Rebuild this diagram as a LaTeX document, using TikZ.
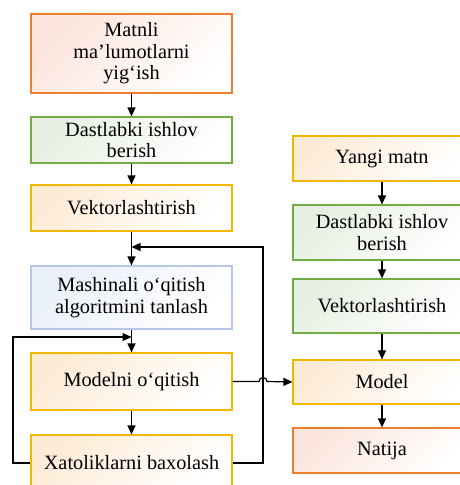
\documentclass[tikz,border=0pt]{standalone}
\usepackage{fontspec}
\setmainfont{Liberation Serif}
\usetikzlibrary{arrows.meta}
\definecolor{cOr}{HTML}{ED7D31}
\definecolor{cGr}{HTML}{70AD47}
\definecolor{cGo}{HTML}{F2B800}
\definecolor{cBl}{HTML}{B4C7E7}
\definecolor{tOr}{HTML}{FBE5DC}
\definecolor{tGr}{HTML}{E6EFE1}
\definecolor{tGo}{HTML}{FDEBD6}
\definecolor{tBl}{HTML}{EAF0F9}
\tikzset{
  box/.style={draw, line width=1.2pt, inner sep=0pt, align=center,
    font=\fontsize{20.3}{21.5}\selectfont},
  lbox/.style={box, minimum width=201pt},
  rbox/.style={box, minimum width=178pt},
  orbox/.style={draw=cOr, top color=tOr, bottom color=white, shading angle=45},
  grbox/.style={draw=cGr, top color=tGr, bottom color=white, shading angle=45},
  gobox/.style={draw=cGo, top color=tGo, bottom color=white, shading angle=45},
  blbox/.style={draw=cBl, top color=tBl, bottom color=white, shading angle=45},
  arr/.style={line width=1.2pt, -{Triangle[length=9pt,width=8pt]}},
  ln/.style={line width=1.2pt}
}
\begin{document}
\begin{tikzpicture}[x=1pt,y=-1pt]
\useasboundingbox (0,0) rectangle (459,485);
% left column
\node[lbox, orbox, minimum height=79pt] (L1) at (131.5,53.5) {Matnli\\ma’lumotlarni\\yig‘ish};
\node[lbox, grbox, minimum height=46pt] (L2) at (131.5,140) {Dastlabki ishlov\\berish};
\node[lbox, gobox, minimum height=46pt] (L3) at (131.5,208) {Vektorlashtirish};
\node[lbox, blbox, minimum height=63pt] (L4) at (131.5,297.5) {Mashinali o‘qitish\\algoritmini tanlash};
\node[lbox, gobox, minimum height=57pt] (L5) at (131.5,381.5) {Modelni o‘qitish};
\node[lbox, gobox, minimum height=56pt] (L6) at (131.5,463) {Xatoliklarni baxolash};
% right column
\node[rbox, gobox, minimum height=45pt] (R1) at (382,158.5) {Yangi matn};
\node[rbox, grbox, minimum height=55pt] (R2) at (382,232.5) {Dastlabki ishlov\\berish};
\node[rbox, grbox, minimum height=54pt] (R3) at (382,306) {Vektorlashtirish};
\node[rbox, gobox, minimum height=44pt] (R4) at (382,382) {Model};
\node[rbox, orbox, minimum height=45pt] (R5) at (382,450.5) {Natija};
% left flow
\draw[arr] (L1) -- (L2);
\draw[arr] (L2) -- (L3);
\draw[arr] (L3) -- (L4);
\draw[arr] (L4) -- (L5);
\draw[arr] (L5) -- (L6);
% feedback loops
\coordinate (fbR) at (263,247);
\coordinate (jR) at (131.5,247);
\coordinate (fbL) at (13,337);
\coordinate (jL) at (131.5,337);
\draw[arr] (L6.east) -| (fbR) -- (jR);
\draw[arr] (L6.west) -| (fbL) -- (jL);
% to model with hop
\coordinate (h1) at (259,381.5);
\draw[arr] (L5.east) -- (h1) arc (180:360:4) -- (R4.west);
% right flow
\draw[arr] (R1) -- (R2);
\draw[arr] (R2) -- (R3);
\draw[arr] (R3) -- (R4);
\draw[arr] (R4) -- (R5);
\end{tikzpicture}
\end{document}
